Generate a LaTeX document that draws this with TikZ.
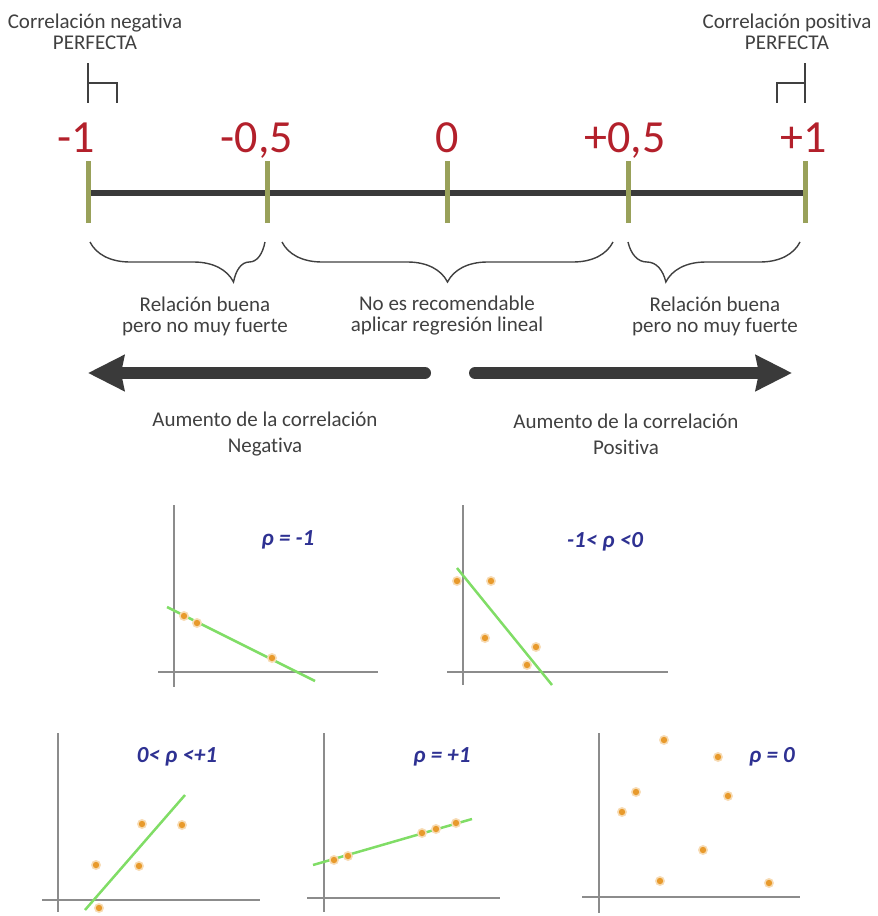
\documentclass[tikz,border=0pt]{standalone}
\usepackage{fontspec}
\setmainfont{Carlito}[Ligatures=NoCommon]
\usetikzlibrary{arrows.meta,decorations.pathreplacing}

\definecolor{numred}{HTML}{B3202B}
\definecolor{tickgreen}{HTML}{99A15A}
\definecolor{linegray}{HTML}{3A3A3A}
\definecolor{txtgray}{HTML}{404040}
\definecolor{fitgreen}{HTML}{80DD66}
\definecolor{dotorange}{HTML}{E89A2C}
\definecolor{rhoblue}{HTML}{2E3192}
\definecolor{axisgray}{HTML}{8C8C8C}

\tikzset{
  numlabel/.style={text=numred, font=\fontsize{46}{46}\selectfont, inner sep=0pt},
  note/.style={text=txtgray, font=\fontsize{21}{21}\selectfont, align=center, inner sep=0pt},
  scaletick/.style={tickgreen, line width=5pt},
  corrbrace/.style={decorate, decoration={brace, amplitude=40pt, aspect=#1}, line width=1.4pt, txtgray},
  bigarrow/.style={linegray, line width=12pt, line cap=round, -{Stealth[length=36pt,width=35pt,inset=3pt]}},
  plotaxis/.style={axisgray, line width=1.6pt},
  fitline/.style={fitgreen, line width=2.5pt},
  rholabel/.style={text=rhoblue, font=\fontsize{23}{23}\selectfont\bfseries\itshape, inner sep=0pt},
}

\newcommand{\corrdot}[2]{%
  \fill[dotorange!35] (#1,#2) circle (5pt);
  \fill[dotorange] (#1,#2) circle (3.2pt);}

\begin{document}
\begin{tikzpicture}[x=1pt, y=-1pt]
    \useasboundingbox (0,0) rectangle (878,916);

    % Scale of the coefficient
    \coordinate (tA) at (88,193);
    \coordinate (tB) at (267,193);
    \coordinate (tC) at (447,193);
    \coordinate (tD) at (628,193);
    \coordinate (tE) at (805,193);
    \draw[linegray, line width=6.5pt] (tA) -- (tE);
    \foreach \t in {tA,tB,tC,tD,tE}
        \draw[scaletick] ([yshift=-30pt]\t) -- ([yshift=32pt]\t);

    \node[numlabel, anchor=base] (nneg1)  at (76,152)  {-1};
    \node[numlabel, anchor=base] (nneg05) at (257,152) {-0,5};
    \node[numlabel, anchor=base] (nzero)  at (447,152) {0};
    \node[numlabel, anchor=base] (npos05) at (625,152) {+0,5};
    \node[numlabel, anchor=base] (npos1)  at (804,152) {+1};

    % Perfect correlation marks
    \node[note] (perfneg) at (95,32) {Correlación negativa\\PERFECTA};
    \node[note] (perfpos) at (787,32) {Correlación positiva\\PERFECTA};
    \draw[txtgray, line width=1.3pt] (88,63) -- (88,103);
    \draw[txtgray, line width=1.3pt] (88,83) -- (117,83) -- (117,103);
    \draw[txtgray, line width=1.3pt] (805,63) -- (805,103);
    \draw[txtgray, line width=1.3pt] (805,83) -- (777,83) -- (777,103);

    % Ranges
    \draw[corrbrace=0.18] (265,242) -- (90,242);
    \draw[corrbrace=0.5]  (613,242) -- (282,242);
    \draw[corrbrace=0.78] (800,242) -- (628,242);
    \node[note] (rangeneg) at (205,316) {Relación buena\\pero no muy fuerte};
    \node[note] (rangemid) at (447,316) {No es recomendable\\aplicar regresión lineal};
    \node[note] (rangepos) at (715,316) {Relación buena\\pero no muy fuerte};

    % Direction arrows
    \coordinate (negtail) at (425,373);
    \coordinate (neghead) at (88,373);
    \coordinate (postail) at (475,373);
    \coordinate (poshead) at (792,373);
    \draw[bigarrow] (negtail) -- (neghead);
    \draw[bigarrow] (postail) -- (poshead);
    \node[note] (incneg) at (265,434) {Aumento de la correlación\\[5pt]Negativa};
    \node[note] (incpos) at (626,434) {Aumento de la correlación\\[5pt]Positiva};

    % rho = -1
    \draw[plotaxis] (174,505) -- (174,687);
    \draw[plotaxis] (158,672) -- (378,672);
    \draw[fitline] (167,607) -- (315,681);
    \foreach \x/\y in {184/616, 197/623, 272/658} {\corrdot{\x}{\y}}
    \node[rholabel] (rhoA) at (288,540) {ρ = -1};

    % -1 < rho < 0
    \draw[plotaxis] (463,505) -- (463,685);
    \draw[plotaxis] (447,672) -- (668,672);
    \draw[fitline] (457,568) -- (552,685);
    \foreach \x/\y in {457/581, 491/581, 485/638, 536/647, 527/665} {\corrdot{\x}{\y}}
    \node[rholabel] (rhoB) at (605,542) {-1< ρ <0};

    % 0 < rho < +1
    \draw[plotaxis] (58,733) -- (58,912);
    \draw[plotaxis] (42,900) -- (260,900);
    \draw[fitline] (85,910) -- (185,795);
    \foreach \x/\y in {142/824, 182/825, 96/865, 139/866, 99/908} {\corrdot{\x}{\y}}
    \node[rholabel] (rhoC) at (177,757) {0< ρ <+1};

    % rho = +1
    \draw[plotaxis] (324,733) -- (324,912);
    \draw[plotaxis] (307,898) -- (500,898);
    \draw[fitline] (313,865) -- (472,819);
    \foreach \x/\y in {334/860, 348/856, 422/833, 436/829, 456/823} {\corrdot{\x}{\y}}
    \node[rholabel] (rhoD) at (442,757) {ρ = +1};

    % rho = 0
    \draw[plotaxis] (599,733) -- (599,913);
    \draw[plotaxis] (582,897) -- (800,897);
    \foreach \x/\y in {664/740, 718/757, 636/792, 728/796, 622/812, 703/850, 660/881, 769/883} {\corrdot{\x}{\y}}
    \node[rholabel] (rhoE) at (772,757) {ρ = 0};
\end{tikzpicture}
\end{document}
